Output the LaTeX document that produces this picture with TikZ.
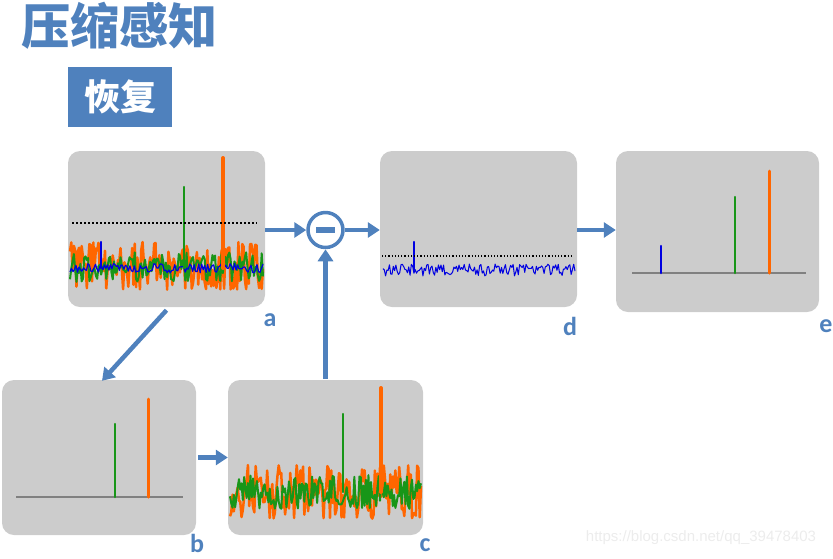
\documentclass[tikz,border=0pt]{standalone}
\usepackage{fontspec}
\newfontfamily\cjk{Noto Sans CJK SC}
\newfontfamily\lblfont{Carlito}
\newfontfamily\urlfont{Liberation Sans}
\usetikzlibrary{arrows.meta,positioning}
\definecolor{theme}{RGB}{79,129,189}
\definecolor{panelgray}{RGB}{204,204,204}
\definecolor{sigorange}{RGB}{255,102,0}
\definecolor{siggreen}{RGB}{24,150,24}
\definecolor{sigblue}{RGB}{0,0,225}
\tikzset{
  every picture/.style={line join=round, >=Stealth},
  panel/.style={fill=panelgray, rounded corners=12pt, inner sep=0pt},
  flow/.style={theme, line width=4.5pt, -{Triangle[length=12pt,width=15pt]}},
  lbl/.style={theme, font=\lblfont\bfseries\fontsize{26}{26}\selectfont, inner sep=0pt},
  base/.style={gray, line width=1.6pt},
  spike/.style={line width=#1, line cap=round},
  noise/.style={line width=#1},
}

\begin{document}
\begin{tikzpicture}[x=1pt,y=-1pt]
\useasboundingbox (0,0) rectangle (833,558);
\pgfmathsetseed{17}
% title and tag
\node[theme, anchor=west, inner sep=0pt, font=\cjk\bfseries\fontsize{49}{49}\selectfont] (title) at (21,26) {压缩感知};
\node[fill=theme, text=white, minimum width=104pt, minimum height=60pt, font=\cjk\bfseries\fontsize{36}{36}\selectfont] (tag) at (120,97) {恢复};

% panels
\node[panel, minimum width=197pt, minimum height=156pt] (a) at (166.5,229) {};
\node[panel, minimum width=197pt, minimum height=156pt] (d) at (478.5,229) {};
\node[panel, minimum width=203pt, minimum height=161pt] (e) at (717.5,231.5) {};
\node[panel, minimum width=194pt, minimum height=155pt] (b) at (99,457.5) {};
\node[panel, minimum width=195pt, minimum height=155pt] (c) at (325.5,457.5) {};
\node[lbl] (la) at (270,320) {a};
\node[lbl] (lb) at (197,543) {b};
\node[lbl] (lc) at (425,545) {c};
\node[lbl] (ld) at (570,326) {d};
\node[lbl] (le) at (826,326) {e};

% panel a: noisy measurement
\draw[noise=2.5pt, sigorange] plot[domain=70:263, samples=150] (\x,{266+24*rand});
\draw[noise=2pt, siggreen] plot[domain=70:263, samples=150] (\x,{267+15*rand});
\draw[noise=1.2pt, sigblue] plot[domain=70:263, samples=130] (\x,{268+5*rand});
\draw[spike=2.5pt, sigblue] (101,268) -- (101,242);
\draw[spike=2.2pt, siggreen] (184,268) -- (184,187);
\draw[spike=4pt, sigorange] (223,268) -- (223,158);
\draw[line width=2pt, dotted] (72,223) -- (257,223);

% panel b: detected components
\draw[base] (16,497) -- (183,497);
\draw[spike=2.5pt, siggreen] (115,497) -- (115,424);
\draw[spike=3pt, sigorange] (148,497) -- (148,399);

% panel c: recomputed measurement
\draw[noise=2.5pt, sigorange] plot[domain=230:421, samples=150] (\x,{492+27*rand});
\draw[noise=2pt, siggreen] plot[domain=230:421, samples=150] (\x,{492+17*rand});
\draw[spike=2.2pt, siggreen] (343,492) -- (343,414);
\draw[spike=4pt, sigorange] (381,492) -- (381,388);

% panel d: residual
\draw[noise=1pt, sigblue] plot[domain=383:575, samples=150] (\x,{270+6*rand});
\draw[spike=2.5pt, sigblue] (414,270) -- (414,242);
\draw[line width=1.2pt, dotted] (382,256) -- (573,256);

% panel e: all components
\draw[base] (632,273) -- (806,273);
\draw[spike=2.5pt, sigblue] (661,273) -- (661,246);
\draw[spike=2.5pt, siggreen] (735,273) -- (735,197);
\draw[spike=3pt, sigorange] (769,273) -- (769,171);

% subtraction
\node[circle, draw=theme, line width=3.5pt, minimum size=35pt, inner sep=0pt] (m) at (325.5,230) {};
\fill[theme] ([shift={(-9.5,-3)}]m.center) rectangle ([shift={(9.5,3)}]m.center);

% flow
\draw[flow] (a.east |- m) -- (m.west);
\draw[flow] (m.east) -- (d.west |- m);
\draw[flow] (c.north) ++(0,-1) -- (m.south);
\draw[flow] (d.east |- m) -- (e.west |- m);
\draw[flow] ([shift={(0,3)}]a.south) -- ([shift={(3,1)}]b.north);
\draw[flow] ([xshift=2pt]b.east) -- (c.west);

\node[text=gray!15, font=\urlfont\fontsize{15}{15}\selectfont] (url) at (701,538) {https://blog.csdn.net/qq\_39478403};
\end{tikzpicture}
\end{document}
